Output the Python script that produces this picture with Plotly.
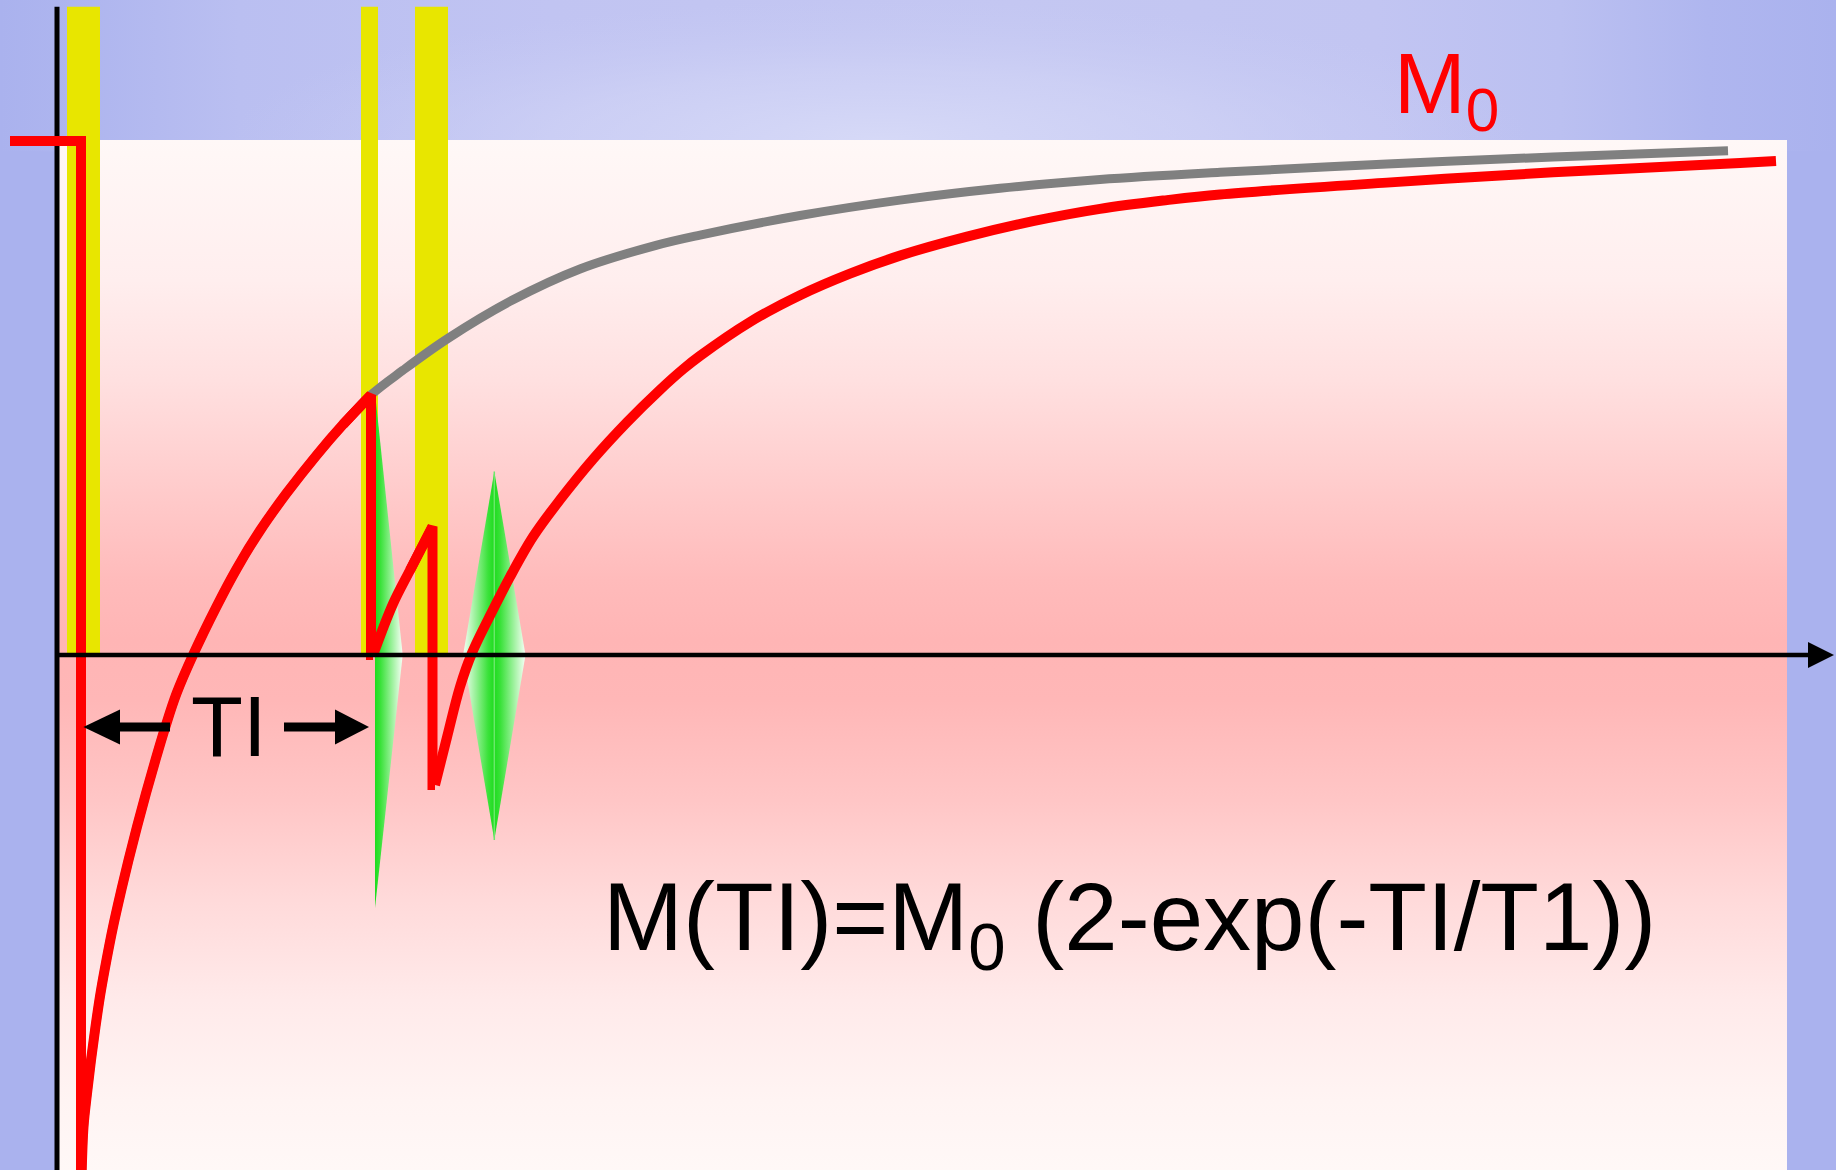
import plotly.graph_objects as go

# ---------------- data (time in ms after the inversion pulse, M in units of M0) ----------------
X_RANGE = [-81, 1755]
Y_RANGE = [-1.0019, 1.2743]

# equilibrium magnetisation before the inversion pulse
pre_t = [-71, 0]
pre_m = [1.0, 1.0]
inversion_floor = -1.02

# free T1 recovery after inversion (grey curve)
recovery_t = [0.5, 2.5, 6, 10, 14.5, 19.5, 25.5, 32, 39.5, 47.5, 56, 65, 74.5, 84.5, 95.5, 112,
              135.7, 155.7, 179, 205.7, 235.7, 262.3, 290, 322, 367, 432, 499, 575, 619,
              719, 819, 919, 1019, 1139, 1306, 1472, 1647]
recovery_m = [-1.02, -0.918, -0.853, -0.788, -0.723, -0.658, -0.593, -0.529, -0.464, -0.399,
              -0.334, -0.269, -0.204, -0.139, -0.075, 0.0, 0.095, 0.168, 0.242, 0.315, 0.389,
              0.449, 0.506, 0.554, 0.616, 0.691, 0.751, 0.797, 0.817, 0.855, 0.885, 0.908,
              0.925, 0.939, 0.955, 0.969, 0.981]

# inversion time (readout 90 deg pulse)
TI = 290

# recovery after the 90 deg readout pulse
readout_t = [292, 312.3, 329, 351.5]
readout_m = [0.0, 0.101, 0.165, 0.250]

# recovery after the 180 deg refocusing pulse
refocus_t = [354, 366, 379, 391, 412, 429, 452, 479, 512, 546, 579, 602, 619, 669, 719, 769,
             819, 886, 952, 1019, 1086, 1139, 1306, 1472, 1659, 1695]
refocus_m = [-0.253, -0.160, -0.062, 0.004, 0.088, 0.152, 0.230, 0.302, 0.381, 0.453, 0.516,
             0.556, 0.582, 0.648, 0.700, 0.742, 0.777, 0.814, 0.844, 0.868, 0.885, 0.896,
             0.919, 0.939, 0.957, 0.961]

# RF pulses (yellow)
pulse_center = [2.5, 288.5, 350.5]
pulse_width = [33, 17, 33]
pulse_top = 1.261

# signals (green): FID after readout and spin echo
fid_span = [294, 321.7]
fid_peak = [0.510, -0.492]
echo_center = 413.3
echo_half = 31.2
echo_peak = [0.357, -0.360]

# axes
axis_origin_t = -24
axis_end_t = 1727
axis_head_len = 26
axis_head_half = 0.0253
axis_top = 1.261

# TI arrow
ti_y = -0.140
ti_left = [2.4, 39, 89]      # tip, head base, tail
ti_right = [203, 254, 288]   # tail, head base, tip
ti_head_half = 0.034

# panels
panel_t = [-22, 1706]
panel_m = [-1.05, 1.002]
radial_t = [149, 1449]
radial_m = [0.7296, 1.2743]

FONT = "Liberation Sans, Arial, sans-serif"
RED = "#FF0000"
RED_W = 10
GREY_W = 9
AXIS_W = 5

fig = go.Figure()


def poly(xs, ys, **kw):
    fig.add_trace(go.Scatter(x=xs, y=ys, mode="lines", fill="toself", line=dict(width=0),
                             hoverinfo="skip", showlegend=False, **kw))


def line(xs, ys, color, width, shape="linear"):
    fig.add_trace(go.Scatter(x=xs, y=ys, mode="lines",
                             line=dict(color=color, width=width, shape=shape,
                                       smoothing=1.0 if shape == "spline" else None),
                             hoverinfo="skip", showlegend=False))


# top band background (horizontal gradient)
poly([X_RANGE[0], X_RANGE[1], X_RANGE[1], X_RANGE[0]],
     [0.98, 0.98, Y_RANGE[1], Y_RANGE[1]],
     fillgradient=dict(type="horizontal", colorscale=[
         [0.0, "#AAB2EE"], [0.05, "#AFB6EF"], [0.13, "#BABFF1"], [0.3, "#C1C4F2"],
         [0.55, "#C4C7F2"], [0.75, "#C2C5F2"], [0.85, "#BBC0F1"], [0.93, "#AFB6EF"],
         [1.0, "#AAB2EE"]]))
# soft light glow at the bottom centre of the band
poly([radial_t[0], radial_t[1], radial_t[1], radial_t[0]],
     [radial_m[0], radial_m[0], radial_m[1], radial_m[1]],
     fillgradient=dict(type="radial", colorscale=[
         [0.0, "rgba(214,217,247,1)"], [0.5, "rgba(210,213,246,0.6)"],
         [1.0, "rgba(200,204,244,0)"]]))

# pink panel (vertical gradient)
poly([panel_t[0], panel_t[1], panel_t[1], panel_t[0]],
     [panel_m[0], panel_m[0], panel_m[1], panel_m[1]],
     fillgradient=dict(type="vertical", start=-1.002, stop=1.002, colorscale=[
         [0.0, "#FFF8F7"], [0.068, "#FFF4F3"], [0.165, "#FFEAEA"], [0.262, "#FFDADA"],
         [0.359, "#FFC6C6"], [0.456, "#FFB7B7"], [0.515, "#FFB5B5"], [0.573, "#FFBBBB"],
         [0.670, "#FFCDCD"], [0.767, "#FFE0E0"], [0.864, "#FFEEEE"], [1.0, "#FFF8F7"]]))

# RF pulses
for c, w in zip(pulse_center, pulse_width):
    poly([c - w / 2, c + w / 2, c + w / 2, c - w / 2], [0, 0, pulse_top, pulse_top],
         fillcolor="#E8E600")

# FID (half diamond)
poly([fid_span[0], fid_span[1], fid_span[0]], [fid_peak[0], 0, fid_peak[1]],
     fillgradient=dict(type="horizontal", colorscale=[
         [0.0, "#1EDC1E"], [0.2, "#3AE23A"], [1.0, "#F6FFF6"]]))
# echo (diamond)
poly([echo_center - echo_half, echo_center, echo_center], [0, echo_peak[0], echo_peak[1]],
     fillgradient=dict(type="horizontal", colorscale=[
         [0.0, "#F6FFF6"], [0.8, "#3AE23A"], [1.0, "#1EDC1E"]]))
poly([echo_center, echo_center + echo_half, echo_center], [echo_peak[0], 0, echo_peak[1]],
     fillgradient=dict(type="horizontal", colorscale=[
         [0.0, "#1EDC1E"], [0.2, "#3AE23A"], [1.0, "#F6FFF6"]]))
line([echo_center, echo_center], echo_peak, "#6AE86A", 1.5)

# vertical axis
line([axis_origin_t, axis_origin_t], [axis_top, Y_RANGE[0] - 0.05], "black", AXIS_W)

# grey free recovery curve
line(recovery_t, recovery_m, "#808080", GREY_W, "spline")

# red magnetisation path
rec_t = [t for t in recovery_t if t <= TI]
rec_m = [m for t, m in zip(recovery_t, recovery_m) if t <= TI]
line(pre_t + [0], pre_m + [inversion_floor], RED, RED_W)                    # inversion
line(rec_t, rec_m, RED, RED_W, "spline")                                    # recovery to TI
line([rec_t[-2], TI, TI, readout_t[0]], [rec_m[-2], rec_m[-1], 0.0, readout_m[0]],
     RED, RED_W)                                                            # readout tip
line(readout_t, readout_m, RED, RED_W, "spline")
line([readout_t[-2], readout_t[-1], readout_t[-1], refocus_t[0]],
     [readout_m[-2], readout_m[-1], refocus_m[0], refocus_m[0]], RED, RED_W)   # refocusing
line(refocus_t, refocus_m, RED, RED_W, "spline")

# horizontal time axis with arrow
line([axis_origin_t, axis_end_t], [0, 0], "black", AXIS_W - 0.5)
poly([axis_end_t, axis_end_t + axis_head_len, axis_end_t],
     [axis_head_half, 0, -axis_head_half], fillcolor="black")

# TI arrows
poly([ti_left[0], ti_left[1], ti_left[1]], [ti_y, ti_y + ti_head_half, ti_y - ti_head_half],
     fillcolor="black")
line([ti_left[1], ti_left[2]], [ti_y, ti_y], "black", 9)
poly([ti_right[2], ti_right[1], ti_right[1]], [ti_y, ti_y + ti_head_half, ti_y - ti_head_half],
     fillcolor="black")
line([ti_right[0], ti_right[1]], [ti_y, ti_y], "black", 9)

annotations = [
    dict(x=148, y=ti_y, text="TI", showarrow=False, xanchor="center", yanchor="middle",
         font=dict(family=FONT, size=85, color="black")),
    dict(x=520, y=-0.522, text="M(TI)=M<sub>0</sub> (2-exp(-TI/T1))", showarrow=False,
         xanchor="left", yanchor="middle", font=dict(family=FONT, size=96, color="black")),
    dict(x=1311, y=1.101, text="M<sub>0</sub>", showarrow=False, xanchor="left",
         yanchor="middle", font=dict(family=FONT, size=86, color=RED)),
]

fig.update_layout(
    width=1836, height=1170, margin=dict(l=0, r=0, t=0, b=0, pad=0),
    paper_bgcolor="#AAB2EE", plot_bgcolor="#AAB2EE",
    xaxis=dict(range=X_RANGE, visible=False, fixedrange=True),
    yaxis=dict(range=Y_RANGE, visible=False, fixedrange=True),
    showlegend=False, annotations=annotations,
)

fig.write_html("out.html", config={"displayModeBar": False},
               post_script="document.body.style.margin='0';document.body.style.overflow='hidden';")
